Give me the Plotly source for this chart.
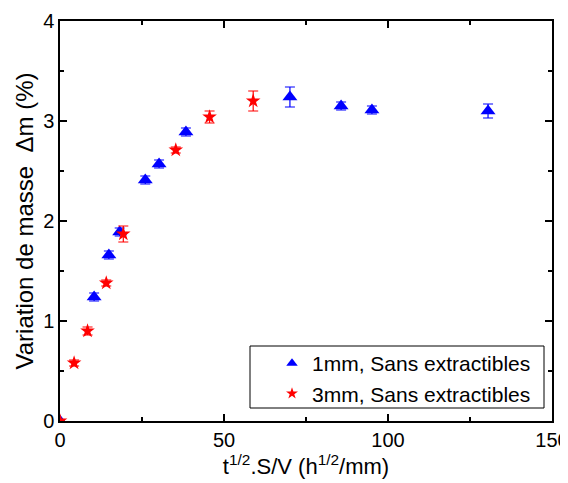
import plotly.graph_objects as go

# 1mm, Sans extractibles (blue triangles)
x1 = [0, 10.4, 14.9, 18.2, 26.0, 30.2, 38.4, 70.1, 85.7, 95.1, 130.5]
y1 = [0, 1.24, 1.66, 1.89, 2.41, 2.57, 2.89, 3.24, 3.15, 3.11, 3.10]
e1 = [0, 0.04, 0.04, 0.04, 0.04, 0.04, 0.04, 0.10, 0.04, 0.04, 0.07]

# 3mm, Sans extractibles (red stars)
x3 = [0, 4.3, 8.4, 14.1, 19.3, 35.3, 45.6, 58.9]
y3 = [0, 0.58, 0.90, 1.38, 1.87, 2.71, 3.04, 3.20]
e3 = [0, 0.03, 0.04, 0.03, 0.08, 0.03, 0.06, 0.10]

names = ["1mm, Sans extractibles", "3mm, Sans extractibles"]
FONT = "Liberation Sans, Arial"

fig = go.Figure()
fig.add_trace(go.Scatter(
    x=x1, y=y1, mode="markers", name=names[0], showlegend=False,
    marker=dict(symbol="triangle-up", color="blue", size=13, line=dict(width=0)),
    error_y=dict(type="data", array=e1, color="blue", thickness=1.2, width=5),
))
fig.add_trace(go.Scatter(
    x=x3, y=y3, mode="markers", name=names[1], showlegend=False,
    marker=dict(symbol="star", color="red", size=11, line=dict(width=0)),
    error_y=dict(type="data", array=e3, color="red", thickness=1.2, width=5),
))
# legend entries (smaller symbols, as in the reference legend)
fig.add_trace(go.Scatter(
    x=[None], y=[None], mode="markers", name=names[0],
    marker=dict(symbol="triangle-up", color="blue", size=10, line=dict(width=0)),
))
fig.add_trace(go.Scatter(
    x=[None], y=[None], mode="markers", name=names[1],
    marker=dict(symbol="star", color="red", size=9, line=dict(width=0)),
))

axis_common = dict(
    showline=True, linecolor="black", linewidth=1.5, mirror="allticks",
    ticks="inside", ticklen=7, tickwidth=1.5, tickcolor="black",
    showgrid=False, zeroline=False, automargin=False,
    ticklabeloverflow="allow",
    tickfont=dict(family=FONT, size=20, color="black"),
)

fig.update_xaxes(
    range=[0, 150], tickvals=[0, 50, 100, 150],
    minor=dict(ticks="inside", ticklen=4, tickwidth=1.5, tickcolor="black", dtick=25),
    title=dict(text="t<sup>1/2</sup>.S/V (h<sup>1/2</sup>/mm)",
               font=dict(family=FONT, size=22, color="black"),
               standoff=2),
    **axis_common,
)
fig.update_yaxes(
    range=[0, 4], tickvals=[0, 1, 2, 3, 4],
    minor=dict(ticks="inside", ticklen=4, tickwidth=1.5, tickcolor="black", dtick=0.5),
    title=dict(text="Variation de masse  Δm (%)",
               font=dict(family=FONT, size=24, color="black"),
               standoff=3),
    **axis_common,
)

fig.add_shape(type="rect", xref="paper", yref="paper",
              x0=(250 - 60) / 492, x1=(544 - 60) / 492,
              y0=(421 - 408) / 400, y1=(421 - 346) / 400,
              line=dict(color="black", width=1), fillcolor="rgba(0,0,0,0)")

# the page body adds an 8px offset, so the figure is 560x475
fig.update_layout(
    width=560, height=475,
    margin=dict(l=52, r=16, t=13, b=62),
    plot_bgcolor="white", paper_bgcolor="white",
    font=dict(family=FONT, color="black"),
    legend=dict(
        x=(272 - 60) / 492, y=(421 - 343) / 400, xanchor="left", yanchor="top",
        borderwidth=0, bgcolor="rgba(0,0,0,0)",
        font=dict(family=FONT, size=21, color="black"),
        itemsizing="trace", tracegroupgap=0,
    ),
    showlegend=True,
)

fig.write_html("out.html")
